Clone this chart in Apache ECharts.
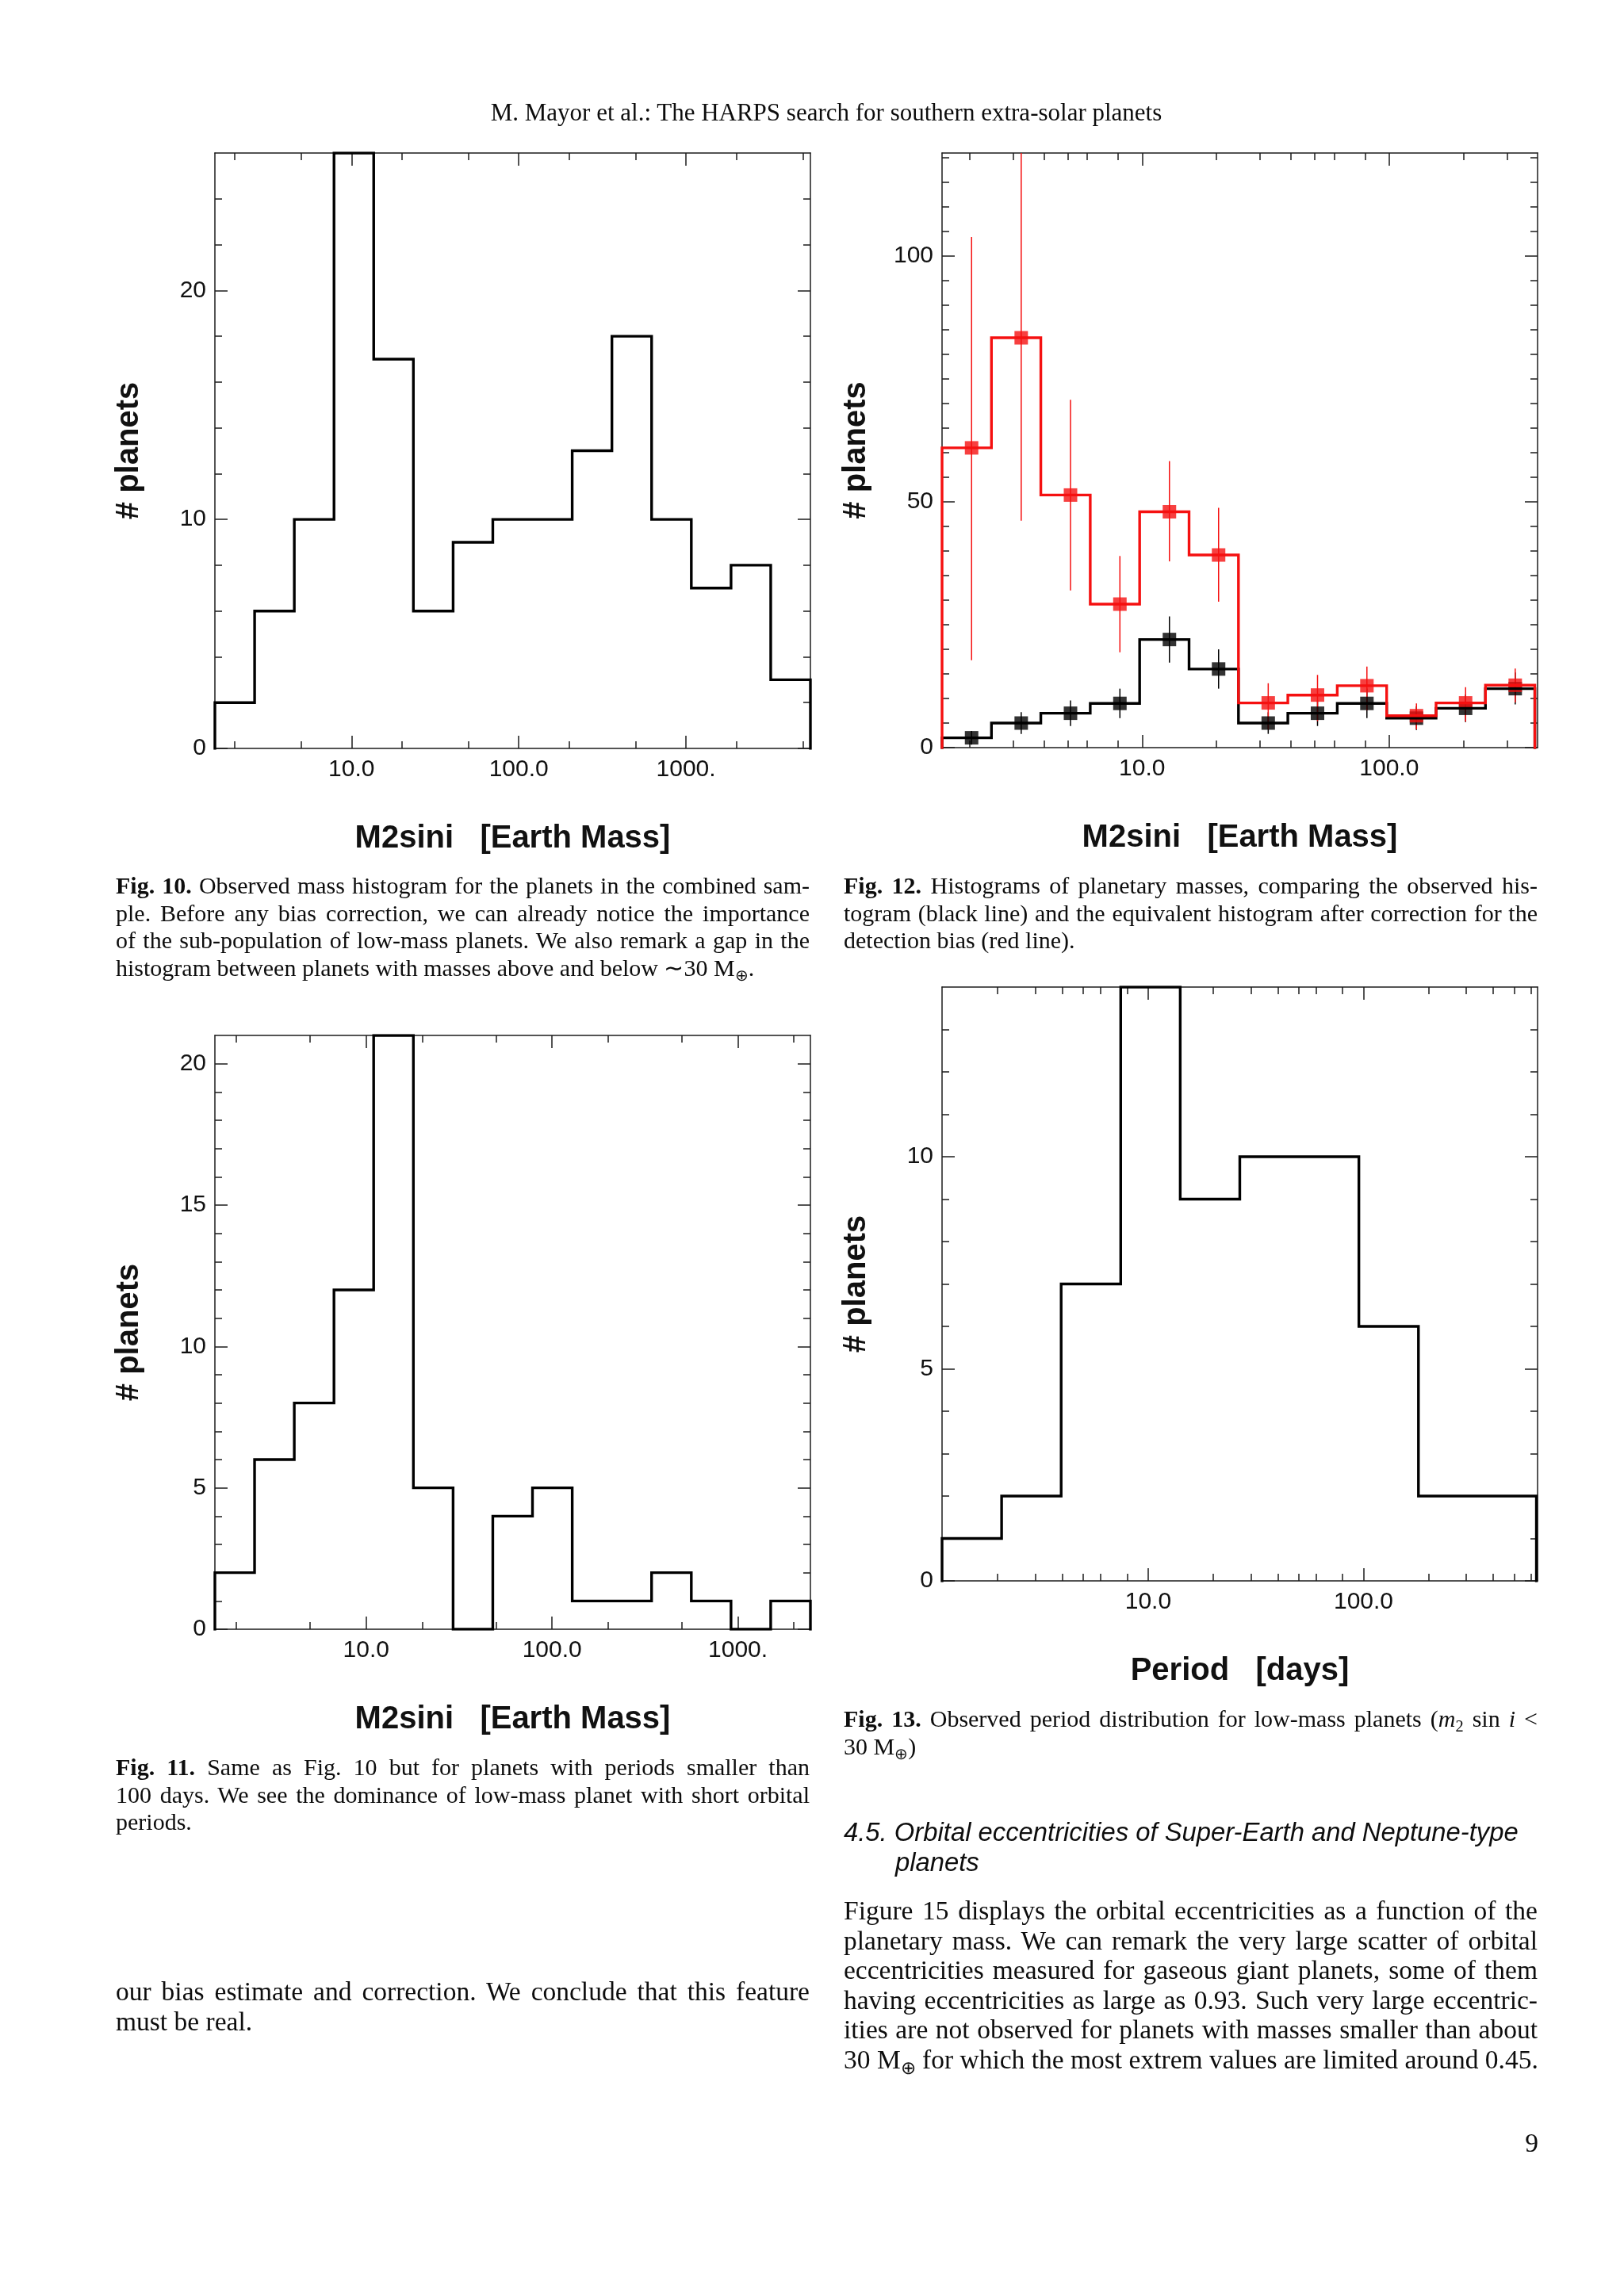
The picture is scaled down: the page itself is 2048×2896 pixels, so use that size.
<!DOCTYPE html>
<html>
<head>
<meta charset="utf-8">
<script src="https://cdn.jsdelivr.net/npm/echarts@6/dist/echarts.min.js"></script>
<style>
  html, body { margin: 0; padding: 0; background: #fff; }
  #page { position: relative; width: 2048px; height: 2896px; overflow: hidden; }
  #chart { position: absolute; left: 0; top: 0; width: 2048px; height: 2896px; }
  .t { position: absolute; font-family: 'Liberation Serif', 'Times New Roman', serif; color: #0d0d0d; }
  .t div { white-space: nowrap; text-align: justify; text-align-last: justify; }
  .t div.last { text-align-last: left; }
  .cap { font-size: 30px; line-height: 34.5px; width: 875px; }
  .body { font-size: 33.5px; line-height: 37.5px; width: 875px; }
  .head { font-size: 31px; line-height: 36px; }
  .sec { font-family: 'Liberation Sans', Arial, sans-serif; font-style: italic; font-size: 32.8px; line-height: 38px; }
  .sec div { text-align: left; text-align-last: left; }
  b { font-weight: bold; }
  sub { font-size: 0.68em; vertical-align: -0.3em; line-height: 0; }
</style>
</head>
<body>
<div id="page">
  <div id="chart"></div>

  <div class="t head" style="left:0;width:2084px;top:124px;text-align:center;">M. Mayor et al.: The HARPS search for southern extra-solar planets</div>

  <div class="t cap" style="left:146px;top:1100px;">
    <div><b>Fig. 10.</b> Observed mass histogram for the planets in the combined sam-</div>
    <div>ple. Before any bias correction, we can already notice the importance</div>
    <div>of the sub-population of low-mass planets. We also remark a gap in the</div>
    <div class="last">histogram between planets with masses above and below ∼30 M<sub>⊕</sub>.</div>
  </div>

  <div class="t cap" style="left:1064px;top:1100px;">
    <div><b>Fig. 12.</b> Histograms of planetary masses, comparing the observed his-</div>
    <div>togram (black line) and the equivalent histogram after correction for the</div>
    <div class="last">detection bias (red line).</div>
  </div>

  <div class="t cap" style="left:146px;top:2212px;">
    <div><b>Fig. 11.</b> Same as Fig. 10 but for planets with periods smaller than</div>
    <div>100 days. We see the dominance of low-mass planet with short orbital</div>
    <div class="last">periods.</div>
  </div>

  <div class="t cap" style="left:1064px;top:2151px;">
    <div><b>Fig. 13.</b> Observed period distribution for low-mass planets (<i>m</i><sub>2</sub> sin <i>i</i> &lt;</div>
    <div class="last">30 M<sub>⊕</sub>)</div>
  </div>

  <div class="t sec" style="left:1064px;top:2292px;">
    <div>4.5. Orbital eccentricities of Super-Earth and Neptune-type</div>
    <div style="padding-left:65px;">planets</div>
  </div>

  <div class="t body" style="left:146px;top:2493px;">
    <div>our bias estimate and correction. We conclude that this feature</div>
    <div class="last">must be real.</div>
  </div>

  <div class="t body" style="left:1064px;top:2391px;">
    <div>Figure 15 displays the orbital eccentricities as a function of the</div>
    <div>planetary mass. We can remark the very large scatter of orbital</div>
    <div>eccentricities measured for gaseous giant planets, some of them</div>
    <div>having eccentricities as large as 0.93. Such very large eccentric-</div>
    <div>ities are not observed for planets with masses smaller than about</div>
    <div>30 M<sub>⊕</sub> for which the most extrem values are limited around 0.45.</div>
  </div>

  <div class="t body" style="left:1900px;width:40px;top:2684px;text-align:right;">9</div>
</div>

<script>
// Fig. 10: all planets, mass histogram
const fig10Edges = [1.524, 2.633, 4.548, 7.857, 13.57, 23.44, 40.50, 69.96, 120.8, 208.7, 360.6, 622.9, 1076, 1859, 3211, 5546]
const fig10Counts = [2, 6, 10, 26, 17, 6, 9, 10, 10, 13, 18, 10, 7, 8, 3]

// Fig. 12: observed (black) vs bias-corrected (red)
const fig12Edges = [1.549, 2.455, 3.890, 6.166, 9.772, 15.49, 24.55, 38.90, 61.66, 97.72, 154.9, 245.5, 389.0]
const fig12Centers = [2.04, 3.24, 5.13, 8.13, 12.9, 20.4, 32.4, 51.3, 81.3, 129, 204, 324]
const fig12Observed = [2, 5, 7, 9, 22, 16, 5, 7, 9, 6, 8, 12]
const fig12ObsLow = [0.6, 2.8, 4.4, 6.0, 17.3, 12.0, 2.8, 4.4, 6.0, 3.6, 5.2, 8.8]
const fig12ObsHigh = [3.4, 7.2, 9.6, 12.0, 26.7, 20.0, 7.2, 9.6, 12.0, 8.4, 10.8, 15.3]
const fig12Corrected = [61, 83.4, 51.4, 29.2, 48, 39.2, 9.1, 10.7, 12.6, 6.5, 9.1, 12.7]
const fig12CorrLow = [17.8, 46.2, 32.0, 19.4, 37.9, 29.7, 3.7, 5.4, 7.6, 3.7, 5.3, 9.2]
const fig12CorrHigh = [103.9, 121, 70.8, 39.0, 58.3, 48.8, 13.1, 14.8, 16.5, 9.0, 12.3, 16.1]

// Fig. 11: planets with P < 100 d
const fig11Edges = [1.535, 2.509, 4.104, 6.711, 10.97, 17.95, 29.35, 48.00, 78.49, 128.4, 209.9, 343.2, 561.4, 918.0, 1501, 2455]
const fig11Counts = [2, 6, 8, 12, 21, 5, 0, 4, 5, 1, 1, 2, 1, 0, 1]

// Fig. 13: period distribution, low-mass planets
const fig13Edges = [1.104, 2.087, 3.945, 7.457, 14.09, 26.64, 50.35, 95.17, 179.9, 340.0, 635]
const fig13Counts = [1, 2, 7, 14, 9, 10, 10, 6, 2, 2]

// tick values
const massMajor = [10, 100, 1000]
const massMinor = [2, 5, 20, 50, 200, 500, 2000, 5000]
const fineMajor = [10, 100]
const fineMinor = [2, 3, 4, 5, 6, 8, 20, 30, 40, 50, 60, 80, 200, 300, 400, 500, 600]
const xLabelText = { 10: '10.0', 100: '100.0', 1000: '1000.' }

const range = (a, b, s) => { const r = []; for (let v = a; v <= b + 1e-9; v += s) r.push(v); return r }

const INK = '#1c1c1c'
const RED = '#f51010'
const sans = "'Liberation Sans', Arial, sans-serif"

const grids = []
const xAxes = []
const yAxes = []
const series = []

// one framed panel: 4 x axes (major/minor, bottom/top) and 4 y axes (major/minor, left/right)
function addPanel(box, xr, yr, xName) {
  const g = grids.length
  grids.push({ left: box[0], top: box[1], width: box[2], height: box[3], containLabel: false })
  const tickLine = { color: INK, width: 1.5 }
  const xBase = { gridIndex: g, type: 'log', min: xr.min, max: xr.max, splitLine: { show: false } }
  const xi = xAxes.length
  xAxes.push(
    Object.assign({}, xBase, {
      position: 'bottom',
      axisLine: { show: true, onZero: false, lineStyle: tickLine },
      axisTick: { inside: true, length: 16, customValues: xr.major, lineStyle: tickLine },
      axisLabel: {
        customValues: xr.major, margin: 12, color: '#111', fontSize: 30, fontFamily: sans,
        formatter: v => xLabelText[Math.round(v)] || ''
      },
      name: xName, nameLocation: 'middle', nameGap: 94,
      nameTextStyle: { fontSize: 40, fontWeight: 'bold', fontFamily: sans, color: '#111' }
    }),
    Object.assign({}, xBase, {
      position: 'bottom',
      axisLine: { show: false, onZero: false },
      axisTick: { inside: true, length: 9, customValues: xr.minor, lineStyle: tickLine },
      axisLabel: { show: false }
    }),
    Object.assign({}, xBase, {
      position: 'top',
      axisLine: { show: true, onZero: false, lineStyle: tickLine },
      axisTick: { inside: true, length: 16, customValues: xr.major, lineStyle: tickLine },
      axisLabel: { show: false }
    }),
    Object.assign({}, xBase, {
      position: 'top',
      axisLine: { show: false, onZero: false },
      axisTick: { inside: true, length: 9, customValues: xr.minor, lineStyle: tickLine },
      axisLabel: { show: false }
    })
  )
  const yBase = { gridIndex: g, type: 'value', min: 0, max: yr.max, splitLine: { show: false } }
  const yi = yAxes.length
  yAxes.push(
    Object.assign({}, yBase, {
      position: 'left',
      axisLine: { show: true, onZero: false, lineStyle: tickLine },
      axisTick: { inside: true, length: 16, customValues: yr.major, lineStyle: tickLine },
      axisLabel: { customValues: yr.major, margin: 11, color: '#111', fontSize: 30, fontFamily: sans },
      name: '# planets', nameLocation: 'middle', nameRotate: 90, nameGap: 88,
      nameTextStyle: { fontSize: 40, fontWeight: 'bold', fontFamily: sans, color: '#111' }
    }),
    Object.assign({}, yBase, {
      position: 'left',
      axisLine: { show: false, onZero: false },
      axisTick: { inside: true, length: 9, customValues: yr.minor, lineStyle: tickLine },
      axisLabel: { show: false }
    }),
    Object.assign({}, yBase, {
      position: 'right',
      axisLine: { show: true, onZero: false, lineStyle: tickLine },
      axisTick: { inside: true, length: 16, customValues: yr.major, lineStyle: tickLine },
      axisLabel: { show: false }
    }),
    Object.assign({}, yBase, {
      position: 'right',
      axisLine: { show: false, onZero: false },
      axisTick: { inside: true, length: 9, customValues: yr.minor, lineStyle: tickLine },
      axisLabel: { show: false }
    })
  )
  return { xi, yi }
}

function stepPoints(edges, counts) {
  const n = counts.length
  const pts = [[edges[0], 0]]
  counts.forEach((c, i) => pts.push([edges[i], c]))
  pts.push([edges[n], counts[n - 1]])
  pts.push([edges[n], 0])
  return pts
}

function histSeries(ax, edges, counts, color) {
  return {
    type: 'line', xAxisIndex: ax.xi, yAxisIndex: ax.yi,
    data: stepPoints(edges, counts), step: 'end',
    symbol: 'none', showSymbol: false, silent: true,
    lineStyle: { color: color, width: 3.4, join: 'miter', cap: 'square' }
  }
}

function errorSeries(ax, xs, lo, hi, color, width) {
  return {
    type: 'custom', xAxisIndex: ax.xi, yAxisIndex: ax.yi, silent: true,
    data: xs.map((x, i) => [x, lo[i], hi[i]]),
    encode: { x: 0, y: [1, 2] },
    renderItem: (params, api) => {
      const a = api.coord([api.value(0), api.value(1)])
      const b = api.coord([api.value(0), api.value(2)])
      return { type: 'line', shape: { x1: a[0], y1: a[1], x2: b[0], y2: b[1] }, style: { stroke: color, lineWidth: width } }
    }
  }
}

function markerSeries(ax, xs, ys, color) {
  return {
    type: 'scatter', xAxisIndex: ax.xi, yAxisIndex: ax.yi, silent: true,
    symbol: 'rect', symbolSize: 17, itemStyle: { color: color },
    data: xs.map((x, i) => [x, ys[i]])
  }
}

// Fig. 10
const p10 = addPanel([271, 193, 751, 751],
  { min: fig10Edges[0], max: fig10Edges[fig10Edges.length - 1], major: massMajor, minor: massMinor },
  { max: 26, major: [0, 10, 20], minor: range(2, 24, 2) },
  'M2sini   [Earth Mass]')
series.push(histSeries(p10, fig10Edges, fig10Counts, '#000'))

// Fig. 12
const p12 = addPanel([1188, 193, 751, 750],
  { min: fig12Edges[0], max: 399, major: fineMajor, minor: fineMinor },
  { max: 121, major: [0, 50, 100], minor: range(5, 120, 5) },
  'M2sini   [Earth Mass]')
series.push(
  histSeries(p12, fig12Edges, fig12Observed, '#000'),
  errorSeries(p12, fig12Centers, fig12ObsLow, fig12ObsHigh, '#000', 1.5),
  markerSeries(p12, fig12Centers, fig12Observed, '#000'),
  histSeries(p12, fig12Edges, fig12Corrected, RED),
  errorSeries(p12, fig12Centers, fig12CorrLow, fig12CorrHigh, RED, 1.5),
  markerSeries(p12, fig12Centers, fig12Corrected, RED)
)

// Fig. 11
const p11 = addPanel([271, 1306, 751, 749],
  { min: fig11Edges[0], max: fig11Edges[fig11Edges.length - 1], major: massMajor, minor: massMinor },
  { max: 21, major: [0, 5, 10, 15, 20], minor: range(1, 20, 1) },
  'M2sini   [Earth Mass]')
series.push(histSeries(p11, fig11Edges, fig11Counts, '#000'))

// Fig. 13
const p13 = addPanel([1188, 1245, 751, 749],
  { min: fig13Edges[0], max: 643, major: fineMajor, minor: fineMinor },
  { max: 14, major: [0, 5, 10], minor: range(1, 13, 1) },
  'Period   [days]')
series.push(histSeries(p13, fig13Edges, fig13Counts, '#000'))

const chart = echarts.init(document.getElementById('chart'), null, { renderer: 'canvas' })
chart.setOption({
  animation: false,
  backgroundColor: 'transparent',
  grid: grids,
  xAxis: xAxes,
  yAxis: yAxes,
  series: series
})
</script>
</body>
</html>
